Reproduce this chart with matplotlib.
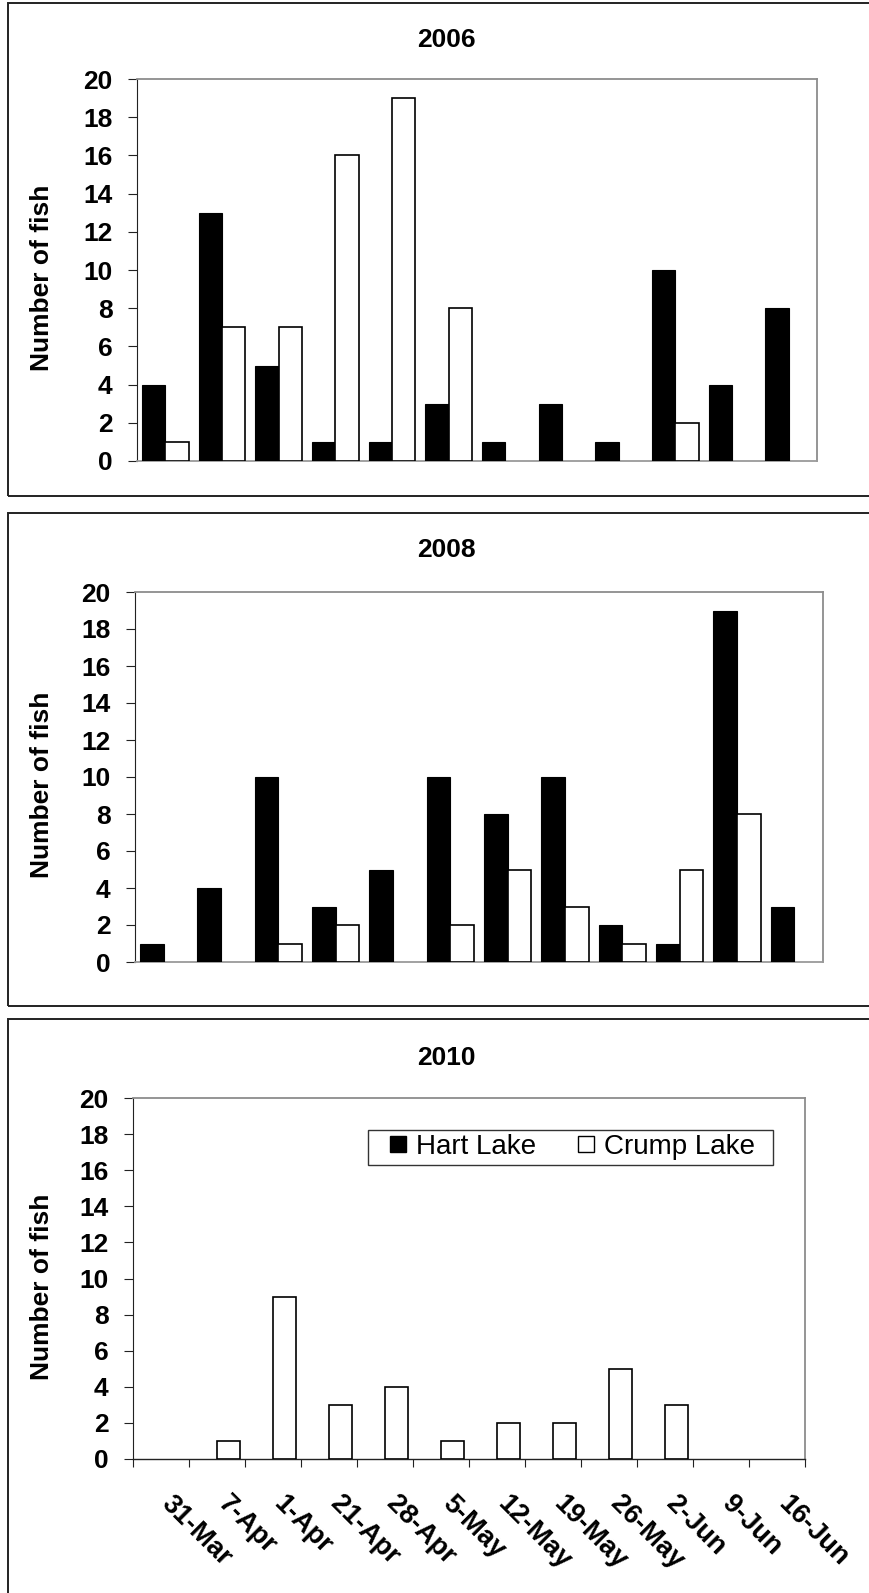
import numpy as np
import matplotlib.pyplot as plt
from matplotlib.patches import Rectangle
from matplotlib.lines import Line2D
from matplotlib.transforms import ScaledTranslation

plt.rcParams['font.family'] = ['Liberation Sans', 'DejaVu Sans']

# weekly sampling dates (shared category axis)
dates = ['31-Mar', '7-Apr', '1-Apr', '21-Apr', '28-Apr', '5-May',
         '12-May', '19-May', '26-May', '2-Jun', '9-Jun', '16-Jun']

hart_2006 = [4, 13, 5, 1, 1, 3, 1, 3, 1, 10, 4, 8]
crump_2006 = [1, 7, 7, 16, 19, 8, 0, 0, 0, 2, 0, 0]

hart_2008 = [1, 4, 10, 3, 5, 10, 8, 10, 2, 1, 19, 3]
crump_2008 = [0, 0, 1, 2, 0, 2, 5, 3, 1, 5, 8, 0]

hart_2010 = [0, 0, 0, 0, 0, 0, 0, 0, 0, 0, 0, 0]
crump_2010 = [0, 1, 9, 3, 4, 1, 2, 2, 5, 3, 0, 0]

W, H = 870, 1593
fig = plt.figure(figsize=(W / 100, H / 100), dpi=100)
fig.patch.set_facecolor('white')


def add_ax(x0, y0, x1, y1):
    # pixel box -> figure fraction
    return fig.add_axes([x0 / W, 1 - y1 / H, (x1 - x0) / W, (y1 - y0) / H])


def px_rect(x0, y0, x1, y1, lw, ec):
    r = Rectangle((x0 / W, 1 - y1 / H), (x1 - x0) / W, (y1 - y0) / H,
                  transform=fig.transFigure, fill=False, lw=lw,
                  ec=ec, clip_on=False, zorder=5)
    fig.add_artist(r)


panels = [
    ('2006', hart_2006, crump_2006, (137, 79, 817, 461), (3, 496), 47),
    ('2008', hart_2008, crump_2008, (135, 592, 823, 962), (513, 1006), 557),
    ('2010', hart_2010, crump_2010, (133, 1098, 805, 1459), (1019, 1620), 1065),
]

x = np.arange(len(dates))
w = 0.41

for i, (year, hart, crump, box, fr, title_y) in enumerate(panels):
    # outer border around each panel
    px_rect(8, fr[0], 900, fr[1], 1.4, '#222222')
    ax = add_ax(*box)
    b1 = ax.bar(x - w / 2, hart, w, color='black', edgecolor='black', lw=0.8,
                zorder=3)
    b2 = ax.bar(x + w / 2, crump, w, color='white', edgecolor='black', lw=1.2,
                zorder=3)
    for p in list(b1) + list(b2):
        if p.get_height() == 0:
            p.set_linewidth(0)
    ax.set_xlim(-0.5, 11.5)
    ax.set_ylim(0, 20)
    ax.set_yticks(range(0, 21, 2))
    ax.tick_params(axis='y', direction='out', length=6.5, width=0.8,
                   pad=11, labelsize=19, color='#222222')
    for lbl in ax.get_yticklabels():
        lbl.set_fontweight('bold')

    for s in ('top', 'right'):
        ax.spines[s].set_color('#8c8c8c')
        ax.spines[s].set_linewidth(1.3)
    ax.spines['left'].set_color('#222222')
    ax.spines['left'].set_linewidth(0.8)

    if i < 2:
        ax.spines['bottom'].set_color('#9a9a9a')
        ax.spines['bottom'].set_linewidth(1.3)
        ax.set_xticks([])
    else:
        ax.spines['bottom'].set_color('#222222')
        ax.spines['bottom'].set_linewidth(1.0)
        ax.set_xticks(np.arange(-0.5, 12, 1))
        ax.set_xticklabels([])
        ax.tick_params(axis='x', which='major', direction='out', length=6,
                       width=0.8, color='#222222')
        ax.set_xticks(x, dates, minor=True)
        ax.tick_params(axis='x', which='minor', length=0, pad=23)
        shift = ScaledTranslation(14 / 100, 0, fig.dpi_scale_trans)
        for lbl in ax.get_xticklabels(minor=True):
            lbl.set_rotation(-45)
            lbl.set_rotation_mode('anchor')
            lbl.set_ha('left')
            lbl.set_va('top')
            lbl.set_fontsize(19.5)
            lbl.set_fontweight('bold')
            lbl.set_transform(lbl.get_transform() + shift)

        handles = [
            Line2D([], [], ls='none', marker='s', markersize=12,
                   markerfacecolor='black', markeredgecolor='black'),
            Line2D([], [], ls='none', marker='s', markersize=12,
                   markerfacecolor='white', markeredgecolor='black',
                   markeredgewidth=1.0),
        ]
        ax.legend(handles, ['Hart Lake', 'Crump Lake'], ncol=2,
                  loc='upper left',
                  bbox_to_anchor=(368 / W, 1 - 1130 / H),
                  bbox_transform=fig.transFigure, borderaxespad=0,
                  fontsize=20, frameon=False,
                  borderpad=0.15, handlelength=1.87,
                  handletextpad=-0.29, columnspacing=0.86)
        px_rect(368, 1130, 773, 1165, 1.0, '#333333')

    fig.text(446 / W, 1 - title_y / H, year, ha='center', va='baseline',
             fontsize=19, fontweight='bold')
    yc = (box[1] + box[3]) / 2 + 8
    fig.text(42 / W, 1 - yc / H, 'Number of fish', rotation=90,
             ha='center', va='center', fontsize=19, fontweight='bold')

fig.savefig('out.png', dpi=100)
